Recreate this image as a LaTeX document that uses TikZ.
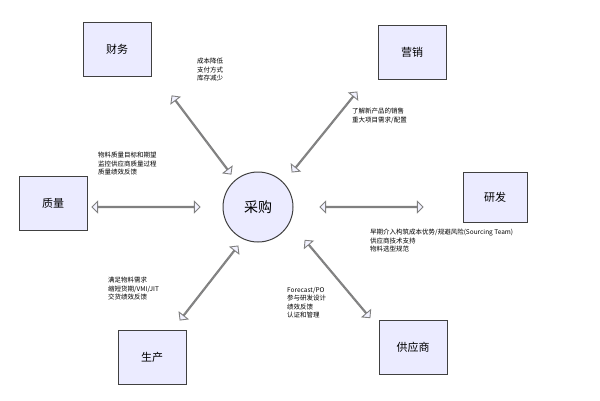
\documentclass[tikz,border=0pt]{standalone}
\usepackage{fontspec}
\setmainfont{Noto Sans CJK SC}
\usetikzlibrary{shapes.arrows}
\begin{document}
\begin{tikzpicture}[x=1pt,y=-1pt,
  dept/.style={draw=black!75,fill=blue!8,line width=1pt,minimum width=68pt,minimum height=54pt,font=\fontsize{11}{13}\selectfont},
  bar/.style={double arrow,draw=black!50,fill=blue!5,line width=0.9pt,minimum width=6pt,double arrow head extend=5pt,inner sep=0pt,shape border uses incircle},
  note/.style={font=\fontsize{6.5}{8.5}\selectfont,align=left,anchor=north west,inner sep=0pt}]
\useasboundingbox[fill=white] (0,0) rectangle (600,400);
\node[draw=black!75,fill=blue!8,line width=1pt,circle,minimum size=70pt,font=\fontsize{14}{16}\selectfont] (c) at (258,207) {采购};
\node[dept] (cw) at (117,49) {财务};
\node[dept] (yx) at (412,52) {营销};
\node[dept] (zl) at (53,203) {质量};
\node[dept,minimum width=64pt,minimum height=50pt] (yf) at (495,197) {研发};
\node[dept] (sc) at (152,357) {生产};
\node[dept] (gys) at (413,347) {供应商};
\node[bar,minimum height=98pt,rotate=-53] (a) at (201.5,135) {};
\node[bar,minimum height=103pt,rotate=51] (b) at (324.5,132) {};
\node[bar,minimum height=108pt] (l) at (146,207) {};
\node[bar,minimum height=103pt] (r) at (371.5,207) {};
\node[bar,minimum height=94pt,rotate=52] (e) at (209,283) {};
\node[bar,minimum height=101pt,rotate=-50] (f) at (337.5,279) {};
\node[note] (t1) at (197,58) {成本降低\\支付方式\\库存减少};
\node[note] (t2) at (352,108) {了解新产品的销售\\重大项目需求/配置};
\node[note] (t3) at (98,152) {物料质量目标和期望\\监控供应商质量过程\\质量绩效反馈};
\node[note] (t4) at (370,229) {早期介入构筑成本优势/规避风险(Sourcing Team)\\供应商技术支持\\物料选型规范};
\node[note] (t5) at (108,277) {满足物料需求\\缩短货期/VMI/JIT\\交货绩效反馈};
\node[note] (t6) at (287,287) {Forecast/PO\\参与研发设计\\绩效反馈\\认证和管理};
\end{tikzpicture}
\end{document}
